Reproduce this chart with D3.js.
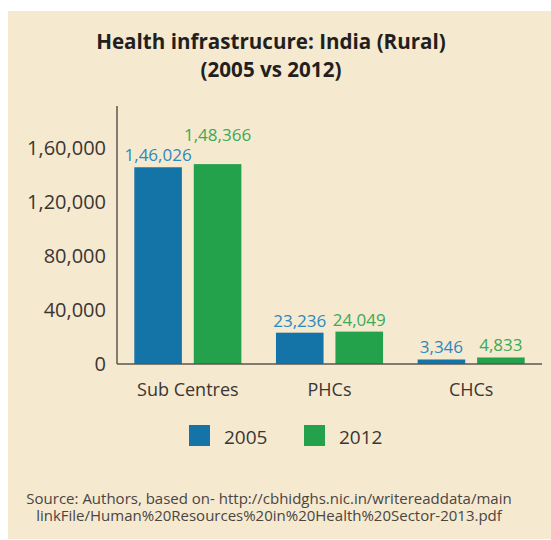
<!DOCTYPE html>
<meta charset="utf-8">
<style>
body { margin: 0; background: #fff; }
svg text { font-family: "Open Sans", sans-serif; }
.title { font-weight: bold; fill: #231f20; }
.axis path { stroke: #5b5650; stroke-width: 1.5; }
.axis text { fill: #3a3633; }
</style>
<body>
<svg width="551" height="540"></svg>
<script src="https://cdn.jsdelivr.net/npm/d3@7"></script>
<script>
var categories = ["Sub Centres", "PHCs", "CHCs"];
var years = ["2005", "2012"];
var values2005 = [146026, 23236, 3346];
var values2012 = [148366, 24049, 4833];
var yTicks = [0, 40000, 80000, 120000, 160000];

var barColors = ["#1474a8", "#24a14b"];
var labelColors = ["#2c88bd", "#3aab57"];

var inr = d3.formatLocale({decimal: ".", thousands: ",", grouping: [3, 2, 2, 2], currency: ["", ""]});
var fmt = inr.format(",d");

var svg = d3.select("svg");

// panel
svg.append("rect")
    .attr("x", 8).attr("y", 11)
    .attr("width", 543).attr("height", 528)
    .attr("fill", "#f5e9d0");

svg.append("text").attr("class", "title")
    .attr("x", 271).attr("y", 49)
    .attr("text-anchor", "middle")
    .style("font-size", "20.6px")
    .text("Health infrastrucure: India (Rural)");
svg.append("text").attr("class", "title")
    .attr("x", 271).attr("y", 77)
    .attr("text-anchor", "middle")
    .style("font-size", "20.6px")
    .text("(2005 vs 2012)");

var x0 = d3.scaleBand().domain(categories).range([117, 542]).padding(0);
var x1 = d3.scaleBand().domain(years)
    .range([17.3, x0.bandwidth() - 17.3]).paddingInner(0.2).paddingOuter(0);
var y = d3.scaleLinear().domain([0, 191500]).range([364, 106]);

var rows = categories.map(function(c, i) {
  return {cat: c, vals: [values2005[i], values2012[i]]};
});

function items(d) {
  return d.vals.map(function(v, k) { return {year: years[k], v: v, k: k, other: d.vals[0]}; });
}

var groups = svg.selectAll(".grp")
  .data(rows)
  .enter().append("g")
    .attr("class", "grp")
    .attr("transform", function(d) { return "translate(" + x0(d.cat) + ",0)"; });

groups.selectAll("rect")
  .data(items)
  .enter().append("rect")
    .attr("x", function(d) { return x1(d.year); })
    .attr("y", function(d) { return y(d.v); })
    .attr("width", x1.bandwidth())
    .attr("height", function(d) { return y(0) - y(d.v); })
    .attr("fill", function(d) { return barColors[d.k]; });

// value labels; the 2012 label is lifted when it would collide with the 2005 one
groups.selectAll(".val")
  .data(items)
  .enter().append("text")
    .attr("class", "val")
    .attr("x", function(d) { return x1(d.year) + x1.bandwidth() / 2; })
    .attr("y", function(d) {
      var base = y(d.v) - 6;
      if (d.k === 1 && y(d.other) - y(d.v) < 20 && d.other > 100000) base = y(d.other) - 6 - 20.6;
      return base;
    })
    .attr("text-anchor", "middle")
    .style("font-size", "17px")
    .attr("fill", function(d) { return labelColors[d.k]; })
    .text(function(d) { return fmt(d.v); });

// y axis
var yAxis = svg.append("g")
    .attr("class", "axis")
    .attr("transform", "translate(117,0)")
    .call(d3.axisLeft(y).tickValues(yTicks).tickSize(0).tickPadding(11).tickFormat(fmt));
yAxis.select(".domain").attr("d", "M0," + y.range()[1] + "V" + y(0));
yAxis.selectAll("text").style("font-size", "20px");

// x axis
var xAxis = svg.append("g")
    .attr("class", "axis")
    .attr("transform", "translate(0," + y(0) + ")")
    .call(d3.axisBottom(x0).tickSize(0).tickPadding(19));
xAxis.select(".domain").attr("d", "M117,0H542");
xAxis.selectAll("text").style("font-size", "18px");

// legend
var legend = svg.selectAll(".leg")
  .data(years)
  .enter().append("g")
    .attr("class", "leg")
    .attr("transform", function(d, i) { return "translate(" + (189 + i * 115) + ",425)"; });
legend.append("rect")
    .attr("width", 21).attr("height", 21)
    .attr("fill", function(d, i) { return barColors[i]; });
legend.append("text")
    .attr("x", 35).attr("y", 19)
    .style("font-size", "19px")
    .attr("fill", "#3a3633")
    .text(function(d) { return d; });

// source note
var src = ["Source: Authors, based on- http://cbhidghs.nic.in/writereaddata/main",
           "linkFile/Human%20Resources%20in%20Health%20Sector-2013.pdf"];
svg.selectAll(".src")
  .data(src)
  .enter().append("text")
    .attr("class", "src")
    .attr("x", 269)
    .attr("y", function(d, i) { return 504 + i * 16.5; })
    .attr("text-anchor", "middle")
    .style("font-size", "15px")
    .attr("fill", "#4a4541")
    .text(function(d) { return d; });
</script>
</body>
